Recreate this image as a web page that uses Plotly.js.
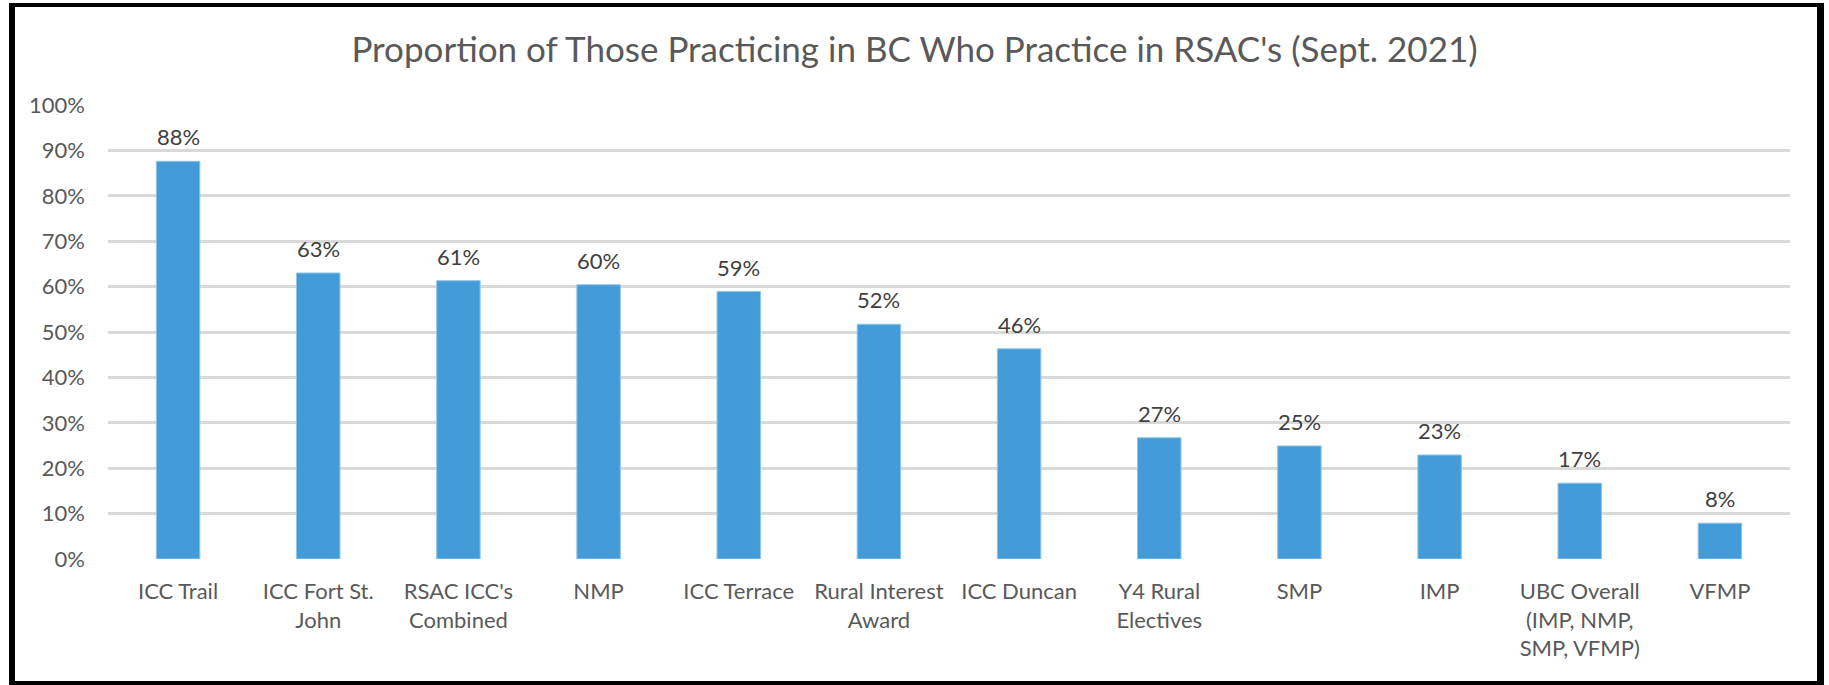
<!DOCTYPE html>
<html>
<head>
<meta charset="utf-8">
<script src="https://cdn.plot.ly/plotly-3.0.1.min.js"></script>
<style>
  html, body { margin: 0; padding: 0; background: #ffffff; }
  #chart { width: 1829px; height: 685px; }
  #frame {
    position: absolute; left: 9px; top: 3px; width: 1815px; height: 690px;
    box-sizing: border-box;
    border-left: 6px solid #000; border-top: 4px solid #000;
    border-right: 7px solid #000; border-bottom: 0;
    pointer-events: none;
  }
  #frameb { position: absolute; left: 9px; top: 681px; width: 1815px; height: 4px; background: #000; pointer-events: none; }
</style>
</head>
<body>
<div id="chart"></div>
<div id="frame"></div>
<div id="frameb"></div>
<script>
const categories = [
  "ICC Trail",
  "ICC Fort St.<br>John",
  "RSAC ICC's<br>Combined",
  "NMP",
  "ICC Terrace",
  "Rural Interest<br>Award",
  "ICC Duncan",
  "Y4 Rural<br>Electives",
  "SMP",
  "IMP",
  "UBC Overall<br>(IMP, NMP,<br>SMP, VFMP)",
  "VFMP"
];
const values = [0.876, 0.630, 0.613, 0.604, 0.589, 0.517, 0.463, 0.267, 0.249, 0.229, 0.167, 0.079];
const valueLabels = ["88%", "63%", "61%", "60%", "59%", "52%", "46%", "27%", "25%", "23%", "17%", "8%"];
const titleText = "Proportion of Those Practicing in BC Who Practice in RSAC's (Sept. 2021)";

const FONT = "Lato, Open Sans, sans-serif";

const trace = {
  type: "bar",
  x: categories,
  y: values,
  marker: { color: "#439CD8", line: { color: "#8EC4EA", width: 1 } },
  hoverinfo: "x+y"
};

const annotations = categories.map((c, i) => ({
  x: c, y: values[i], xref: "x", yref: "y",
  text: valueLabels[i], showarrow: false,
  yanchor: "bottom", yshift: 9,
  font: { family: FONT, size: 22, color: "#404040" }
}));

const layout = {
  width: 1829, height: 685,
  margin: { l: 108, r: 39, t: 105, b: 126 },
  paper_bgcolor: "#ffffff", plot_bgcolor: "#ffffff",
  title: {
    text: titleText,
    x: 0.5, xanchor: "center", xref: "container",
    y: 1 - 50 / 685, yanchor: "middle", yref: "container",
    font: { family: FONT, size: 35, color: "#595959" }
  },
  bargap: 0.69,
  showlegend: false,
  xaxis: {
    type: "category",
    tickfont: { family: FONT, size: 22, color: "#595959" },
    showgrid: false, zeroline: false, showline: false,
    ticks: "", ticklabelstandoff: 17
  },
  yaxis: {
    range: [0, 1], dtick: 0.1, tick0: 0,
    tickformat: ".0%",
    tickfont: { family: FONT, size: 22, color: "#595959" },
    showgrid: true, gridcolor: "#D9D9D9", gridwidth: 2.5,
    zeroline: false, showline: false, ticks: "",
    ticklabelstandoff: 22
  },
  annotations: annotations
};

Plotly.newPlot("chart", [trace], layout, { displayModeBar: false, staticPlot: false });
</script>
</body>
</html>
